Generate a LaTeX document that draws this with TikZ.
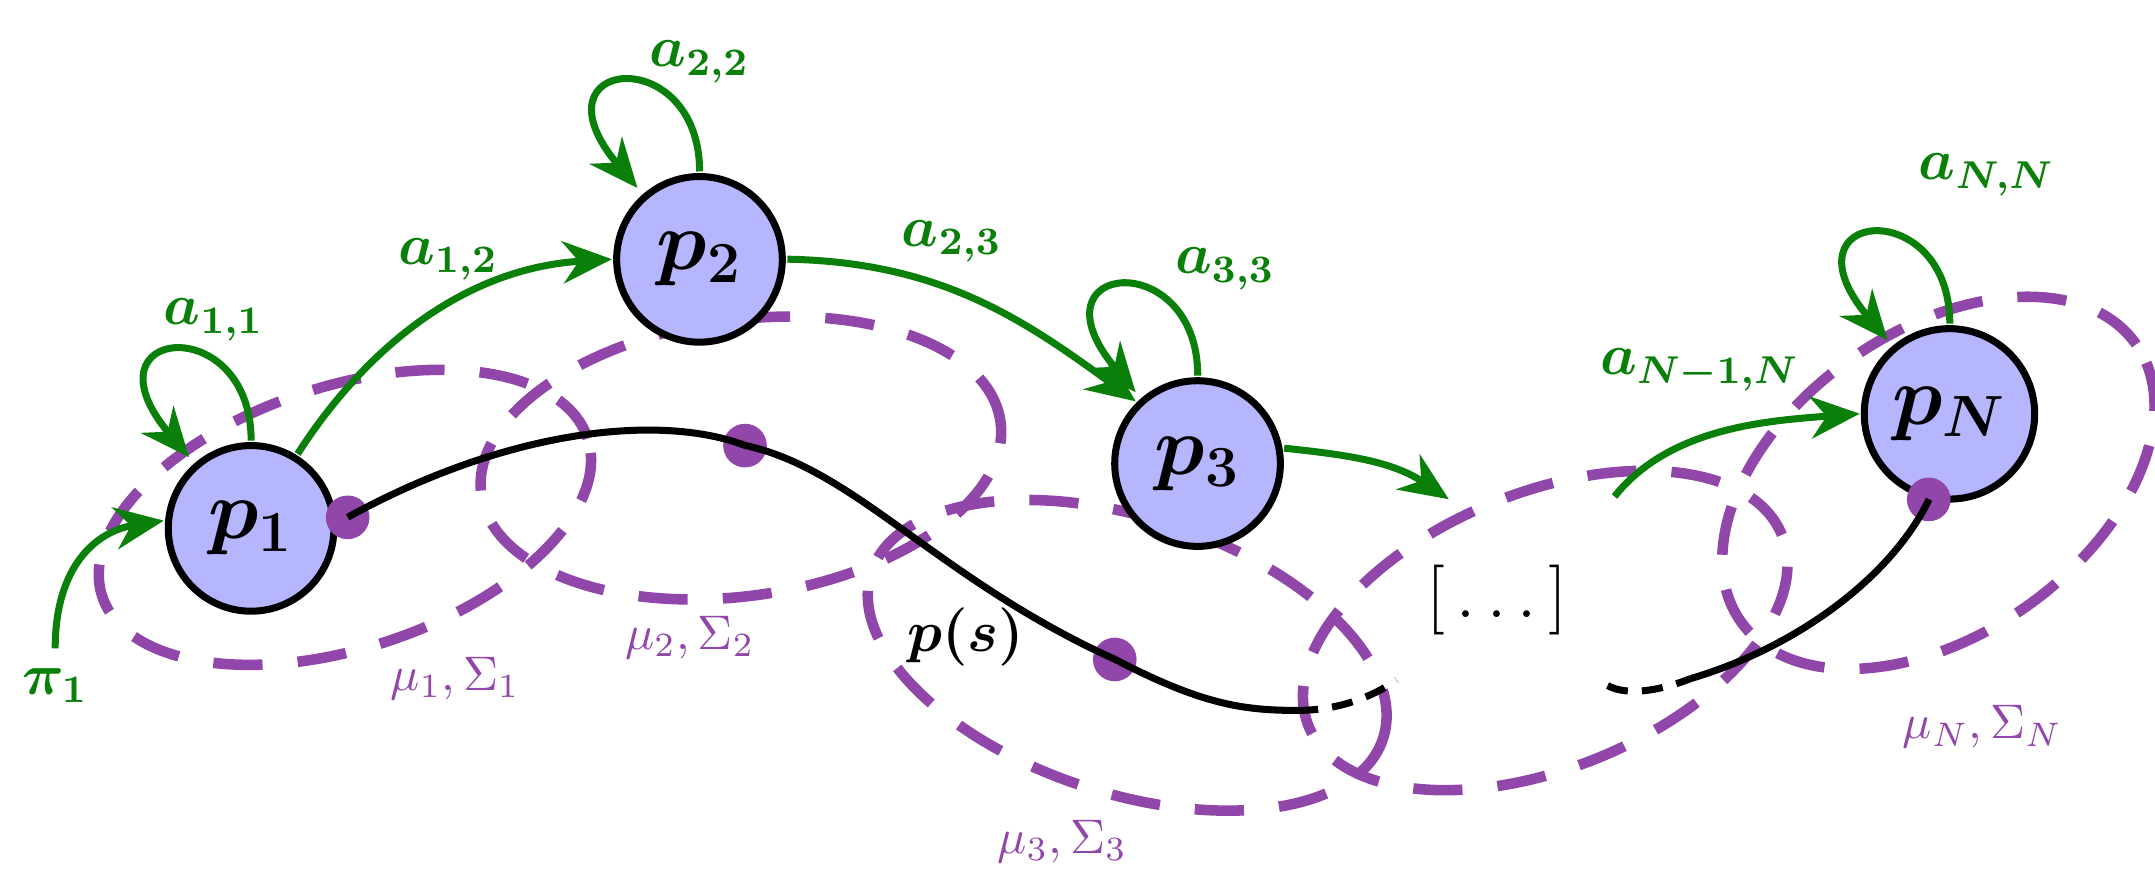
\documentclass[tikz,border=0pt]{standalone}
\usepackage{amsmath,bm}
\usetikzlibrary{arrows.meta}
\definecolor{pur}{RGB}{145,70,170}
\definecolor{grn}{RGB}{10,128,10}
\definecolor{nfill}{RGB}{182,182,255}
\begin{document}
\begin{tikzpicture}[x=0.01cm,y=0.01cm,scale=1.38,every node/.append style={transform shape},
  st/.style={circle,draw,line width=2pt,fill=nfill,minimum size=1.2cm,font=\LARGE},
  tr/.style={grn,line width=2pt,-{Stealth[length=14pt,width=12pt]}},
  gl/.style={grn,font=\large},
  pl/.style={pur,font=\normalsize},
  el/.style={pur,line width=3pt,dash pattern=on 14pt off 10pt},
  dt/.style={circle,fill=pur,inner sep=0pt,minimum size=9pt}]
\useasboundingbox (0,244) rectangle (1562,886);
% ellipses
\draw[el] (250,511) ellipse[x radius=185,y radius=95,rotate=18];
\draw[el] (537,554) ellipse[x radius=190,y radius=100,rotate=8];
\draw[el] (817,411) ellipse[x radius=195,y radius=100,rotate=-18];
\draw[el] (1120,429) ellipse[x radius=185,y radius=100,rotate=22];
\draw[el] (1405,536) ellipse[x radius=175,y radius=110,rotate=35];
% states
\node[st] (p1) at (182,503) {$\bm{p_1}$};
\node[st] (p2) at (507,698) {$\bm{p_2}$};
\node[st] (p3) at (868,550) {$\bm{p_3}$};
\node[st] (pN) at (1413,586) {$\bm{p_N}$};
\node[font=\Large] (dots) at (1085,451) {$[\,\dots\,]$};
% curve
\node[dt] (d1) at (252,511) {};
\node[dt] (d2) at (540,563) {};
\node[dt] (d3) at (808,408) {};
\node[dt] (d4) at (1398,524) {};
\coordinate (c1) at (940,371);
\coordinate (c2) at (1012,393);
\coordinate (c3) at (1165,389);
\coordinate (c4) at (1225,394);
\draw[line width=2pt] (d1.center) .. controls (370,576) and (480,586) .. (d2.center)
  .. controls (620,546) and (680,466) .. (d3.center) .. controls (870,376) and (900,371) .. (c1);
\draw[line width=2pt,dash pattern=on 6pt off 4pt] (c1) .. controls (970,371) and (995,381) .. (c2);
\draw[line width=2pt,dash pattern=on 6pt off 4pt] (c3) .. controls (1180,381) and (1205,386) .. (c4);
\draw[line width=2pt] (c4) .. controls (1300,416) and (1370,466) .. (d4.center);
\node[font=\large] (ps) at (700,424) {$\bm{p(s)}$};
% transitions
\coordinate (s0) at (40,416);
\draw[tr] (s0) .. controls (40,476) and (70,501) .. (p1.175);
\node[gl] (lpi) at (40,389) {$\bm{\pi_1}$};
\draw[tr] (p1.58) .. controls (260,626) and (330,691) .. (p2.west);
\draw[tr] (p2.east) .. controls (680,696) and (740,656) .. (p3.north west);
\coordinate (e3) at (1050,524);
\draw[tr] (p3.10) .. controls (980,556) and (1010,551) .. (e3);
\coordinate (sN) at (1170,526);
\draw[tr] (sN) .. controls (1210,576) and (1280,581) .. (pN.west);
\foreach \n in {p1,p2,p3,pN}{
  \draw[tr] (\n.north)+(0,0) .. controls +(0,95) and +(-80,95) .. ([shift={(-45,-12)}]\n.north);
}
\node[gl] (l11) at (155,654) {$\bm{a_{1,1}}$};
\node[gl] (l12) at (325,698) {$\bm{a_{1,2}}$};
\node[gl] (l22) at (507,841) {$\bm{a_{2,2}}$};
\node[gl] (l23) at (690,711) {$\bm{a_{2,3}}$};
\node[gl] (l33) at (888,691) {$\bm{a_{3,3}}$};
\node[gl] (lN1) at (1232,618) {$\bm{a_{N-1,N}}$};
\node[gl] (lNN) at (1440,759) {$\bm{a_{N,N}}$};
\node[pl] (m1) at (330,394) {$\mu_1,\Sigma_1$};
\node[pl] (m2) at (500,424) {$\mu_2,\Sigma_2$};
\node[pl] (m3) at (770,276) {$\mu_3,\Sigma_3$};
\node[pl] (mN) at (1437,359) {$\mu_N,\Sigma_N$};
\end{tikzpicture}
\end{document}
